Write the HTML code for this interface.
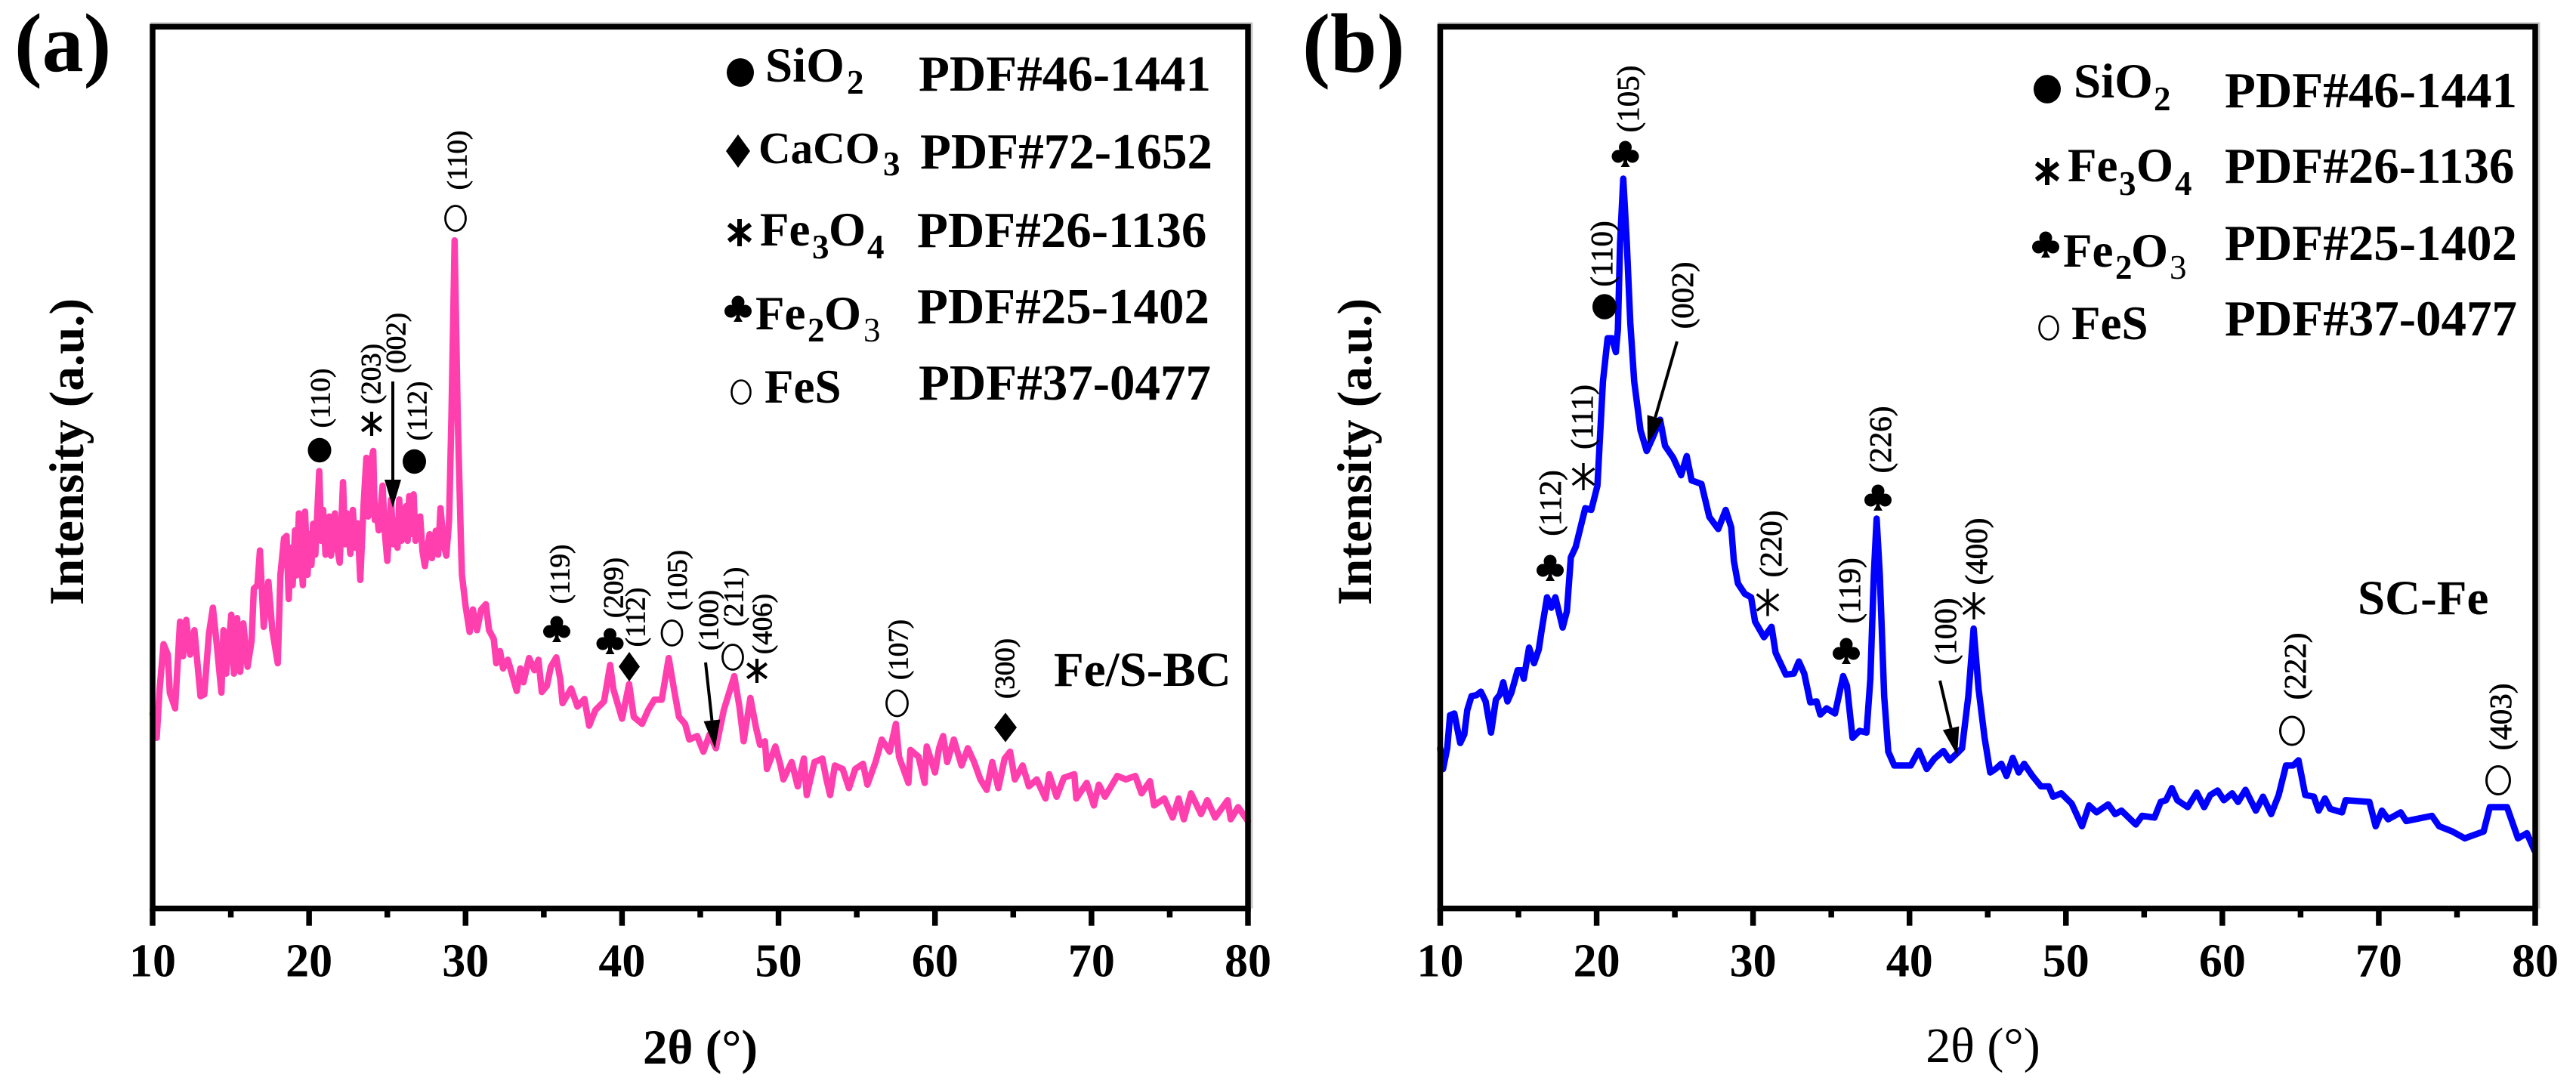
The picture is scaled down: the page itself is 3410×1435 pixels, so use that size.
<!DOCTYPE html>
<html lang="en">
<head>
<meta charset="utf-8">
<title>XRD patterns of Fe/S-BC and SC-Fe</title>
<style>
html,body{margin:0;padding:0;background:#fff;}
svg{display:block;}
text{font-family:"Liberation Serif",serif;fill:#000;}
.b{font-weight:bold;}
.tick{font-weight:bold;font-size:62px;text-anchor:middle;}
.title{font-weight:bold;font-size:65px;text-anchor:middle;}
.pdf{font-weight:bold;font-size:67px;}
.chem{font-weight:bold;font-size:63px;}
.si{font-weight:bold;font-size:65px;}
.ca{font-weight:bold;font-size:59px;}
.sub{font-weight:bold;font-size:45px;}
.hkl{font-size:37px;text-anchor:middle;dominant-baseline:central;stroke:#000;stroke-width:.7px;}
.hklb{font-size:41px;text-anchor:middle;dominant-baseline:central;stroke:#000;stroke-width:.7px;}
</style>
</head>
<body>
<svg id="fig" xmlns="http://www.w3.org/2000/svg" width="3410" height="1435" viewBox="0 0 3410 1435">
  <rect x="0" y="0" width="3410" height="1435" fill="#fff"/>

  <text class="b" x="19" y="94" font-size="110">(a)</text>
  <text class="b" x="1724" y="95" font-size="111">(b)</text>

  <g id="panelA"></g>
  <g id="panelB"></g>

  <text class="title" transform="translate(110 598) rotate(-90)">Intensity (a.u.)</text>
  <text class="title" transform="translate(1815 598) rotate(-90)">Intensity (a.u.)</text>
  <text class="title" x="927" y="1408" font-size="62">2θ (°)</text>
  <text x="2625" y="1406" font-size="66" text-anchor="middle">2θ (°)</text>

  <text class="si" x="1395" y="908">Fe/S-BC</text>
  <text class="si" x="3121" y="813">SC-Fe</text>

  <g>
    <g>
      <text class="si" x="1013" y="108">SiO</text><text class="sub" x="1121" y="124">2</text>
      <text class="pdf" x="1216" y="120">PDF#46-1441</text>
    </g>
    <g>
      <text class="ca" x="1004" y="216">CaCO</text><text class="sub" x="1169" y="232">3</text>
      <text class="pdf" x="1218" y="223">PDF#72-1652</text>
    </g>
    <g>
      <text class="chem" x="1006" y="325">Fe</text><text class="sub" x="1075" y="342">3</text><text class="chem" x="1097" y="325">O</text><text class="sub" x="1148" y="342">4</text>
      <text class="pdf" x="1214" y="327">PDF#26-1136</text>
    </g>
    <g>
      <text class="chem" x="1000" y="436">Fe</text><text class="sub" x="1069" y="452">2</text><text class="chem" x="1091" y="436">O</text><text class="sub" x="1143" y="452" style="font-weight:normal">3</text>
      <text class="pdf" x="1214" y="428">PDF#25-1402</text>
    </g>
    <g>
      <text class="chem" x="1012" y="533">FeS</text>
      <text class="pdf" x="1216" y="529">PDF#37-0477</text>
    </g>
  </g>

  <g>
    <g>
      <text class="si" x="2745" y="129">SiO</text><text class="sub" x="2851" y="146">2</text>
      <text class="pdf" x="2945" y="142">PDF#46-1441</text>
    </g>
    <g>
      <text class="chem" x="2737" y="240">Fe</text><text class="sub" x="2805" y="258">3</text><text class="chem" x="2828" y="240">O</text><text class="sub" x="2879" y="258">4</text>
      <text class="pdf" x="2945" y="242">PDF#26-1136</text>
    </g>
    <g>
      <text class="chem" x="2731" y="353">Fe</text><text class="sub" x="2800" y="369">2</text><text class="chem" x="2821" y="353">O</text><text class="sub" x="2872" y="369" style="font-weight:normal">3</text>
      <text class="pdf" x="2945" y="344">PDF#25-1402</text>
    </g>
    <g>
      <text class="chem" x="2742" y="449">FeS</text>
      <text class="pdf" x="2945" y="444">PDF#37-0477</text>
    </g>
  </g>

  <g id="marks"></g>
</svg>

<script>
// ---- chart data (2-theta in degrees, intensity in arbitrary counts) ----
const majorTicks = [10, 20, 30, 40, 50, 60, 70, 80];
const minorTicks = [15, 25, 35, 45, 55, 65, 75];
const tickLabels = ['10', '20', '30', '40', '50', '60', '70', '80'];

const thetaA = [
10,10.26,10.45,10.7,10.97,11.1,11.44,11.75,11.94,12.15,12.4,12.67,13.06,13.3,13.6,13.85,14.1,14.4,14.53,14.7,
15.03,15.2,15.4,15.6,15.8,16.07,16.33,16.47,16.7,16.86,17.1,17.4,17.65,18,18.17,18.4,18.56,18.7,18.85,18.95,
19.1,19.2,19.35,19.5,19.6,19.74,19.9,20.05,20.15,20.26,20.4,20.65,20.78,20.9,21.05,21.18,21.3,21.4,21.65,21.8,
21.96,22.17,22.3,22.43,22.64,22.8,22.95,23.1,23.27,23.48,23.66,23.78,23.87,24.1,24.2,24.3,24.45,24.7,24.85,25,
25.24,25.38,25.5,25.65,25.76,25.9,26,26.2,26.3,26.4,26.55,26.68,26.8,26.94,27.1,27.25,27.4,27.7,27.85,28.1,
28.25,28.4,28.6,28.77,28.95,29.1,29.3,29.5,29.7,29.77,
30,30.26,30.47,30.73,31,31.3,31.5,31.8,31.96,32.2,32.4,32.7,32.96,33.27,33.5,33.7,34.06,34.4,34.66,34.87,
35.2,35.45,35.8,36.05,36.2,36.75,37.15,37.6,37.9,38.3,38.85,39.24,39.45,40,40.45,40.75,41.28,41.67,42.07,42.54,
42.98,43.32,43.64,44.03,44.3,44.8,45.2,45.6,46,46.5,47.17,47.5,47.77,48.2,48.56,48.82,49.13,49.26,49.8,50.13,
50.31,50.84,51.23,51.62,51.8,52.3,52.8,53.06,53.3,53.6,54.1,54.5,54.9,55.4,55.68,56.2,56.6,57.1,57.5,57.7,
58.3,58.43,58.95,59.34,59.47,60,60.26,60.52,60.78,61.2,61.7,62.1,62.5,62.9,63.3,63.66,64.05,64.45,64.8,65.1,
65.6,66,66.5,67.06,67.3,67.77,68.24,68.9,69.03,69.7,70.15,70.47,70.86,71.65,72.2,72.8,73.2,73.74,74,74.65,
75.18,75.57,75.9,76.36,77,77.4,77.9,78.7,78.9,79.37,80
];
const intensityA = [
562,492,632,762,732,622,577,827,727,832,732,802,612,617,792,867,762,622,802,677,
847,677,837,682,822,697,772,922,932,1032,812,942,802,707,962,1067,1074,892,1040,932,
1090,960,1139,1000,932,1144,962,1080,990,1109,1020,1261,1060,1149,1020,1079,1130,1017,1139,1040,
997,1229,1050,1139,1022,1149,1040,1110,947,1159,1299,1130,1269,1319,1120,1159,1090,1219,1080,1002,
1179,1050,1119,1040,1179,1060,1089,1160,1060,1189,1080,1194,1060,1089,1130,1030,987,1079,1010,1089,
1020,1154,1050,1017,1119,1419,1926,1419,1062,962,
872,797,862,802,862,877,802,777,707,742,692,717,677,627,692,652,722,687,717,624,
642,697,724,662,592,634,582,604,527,572,597,702,632,547,647,552,532,572,602,602,
722,632,552,532,487,497,452,502,462,572,670,582,482,607,522,472,482,402,467,412,
372,422,352,432,327,422,432,372,327,412,402,347,402,417,357,422,487,452,532,437,
362,457,437,362,467,392,462,497,422,487,412,462,422,372,342,422,347,432,452,372,
412,352,372,317,387,322,377,387,317,362,297,357,322,382,372,382,332,367,297,317,
262,317,257,332,272,312,262,312,257,292,252
];

const thetaB = [
10,10.18,10.45,10.63,10.9,11.28,11.54,11.73,12,12.33,12.6,12.9,13.25,13.56,13.82,14.03,14.3,14.55,14.95,15.2,
15.34,15.68,16,16.3,16.5,16.83,17.1,17.36,17.83,18.1,18.35,18.66,19.27,19.66,20.05,20.4,20.7,20.97,21.23,21.36,
21.5,21.7,21.93,22.15,22.4,22.8,23.2,23.6,24.06,24.37,24.9,25.4,25.76,26.07,26.7,27.2,27.77,28.25,28.6,28.77,
29.03,29.47,29.87,30.13,30.7,31.18,31.44,32.1,32.6,32.93,33.27,33.66,34.06,34.3,34.7,35.24,35.76,36,36.36,36.8,
37.25,37.5,37.72,37.9,38.1,38.38,38.64,39.03,40.08,40.6,41.1,41.6,42.17,42.57,43.1,43.36,43.76,44.1,44.42,44.8,
45.16,45.5,45.87,46.2,46.6,46.98,47.33,47.86,48.4,48.9,49.18,49.7,50.37,51.03,51.48,51.96,52.7,53.15,53.55,54.47,
54.87,55.66,56.06,56.4,56.77,57.12,57.78,58.36,58.84,59.23,59.7,60.1,60.63,61,61.48,62.14,62.6,63.12,63.6,64.07,
64.52,64.87,65.3,65.85,66.16,66.56,66.9,67.65,67.88,69.4,69.8,70.2,70.6,71.4,71.75,73.4,73.86,74.7,75.5,76.7,
77.1,78.2,78.9,79.47,79.95
];
const intensityB = [
462,402,462,557,562,477,502,572,612,615,625,597,507,602,617,652,597,622,687,687,
662,752,707,747,807,897,867,897,810,857,1012,1042,1154,1149,1219,1519,1644,1644,1604,1669,
1919,2104,1919,1689,1519,1379,1319,1359,1409,1334,1299,1249,1304,1234,1224,1129,1094,1149,1099,1002,
937,907,897,827,782,812,737,674,677,712,677,594,597,559,577,562,670,642,492,512,
507,662,962,1124,962,612,452,412,412,455,402,432,454,427,450,462,612,807,632,492,
392,402,417,382,434,392,417,382,352,352,322,332,302,237,297,277,300,272,282,242,
267,262,307,312,347,312,292,334,292,327,340,312,332,307,342,282,322,272,327,412,
412,427,327,322,282,317,287,277,312,307,237,282,257,277,252,267,237,222,202,222,
292,292,202,217,167
];

const xMin = 10, xMax = 80, yMin = 0, yMax = 2542;
const NS = 'http://www.w3.org/2000/svg';

function mk(parent, tag, attrs) {
  const el = document.createElementNS(NS, tag);
  for (const k in attrs) el.setAttribute(k, attrs[k]);
  parent.appendChild(el);
  return el;
}

function drawPanel(root, suffix, left, right, theta, intensity, color, width) {
  const top = 35.4, bottom = 1202.6;
  const xScale = v => left + (v - xMin) / (xMax - xMin) * (right - left);
  const yScale = v => bottom - (v - yMin) / (yMax - yMin) * (bottom - top);

  const shadow = mk(root, 'path', { d: `M${left - 3} ${top - 4.5}H${right + 5}V${bottom}`, fill: 'none', stroke: '#c9c9c9', 'stroke-width': 3 });
  
  

  const d = theta.map((t, i) => (i ? 'L' : 'M') + xScale(t).toFixed(1) + ' ' + yScale(intensity[i]).toFixed(1)).join('');
  const line = mk(root, 'path', { d: d, fill: 'none', stroke: color, 'stroke-width': width, 'stroke-linejoin': 'round', 'stroke-linecap': 'round' });
  
  

  const frame = mk(root, 'rect', { x: left, y: top, width: right - left, height: bottom - top, fill: 'none', stroke: '#000', 'stroke-width': 7.5 });
  
  

  majorTicks.forEach((t, i) => {
    const tick = mk(root, 'line', { x1: xScale(t), x2: xScale(t), y1: bottom, y2: 1225.6, stroke: '#000', 'stroke-width': 7.5 });
    
    
    const lab = mk(root, 'text', { x: xScale(t), y: 1292.5, class: 'tick' });
    lab.textContent = tickLabels[i];
    
    
  });
  minorTicks.forEach(t => {
    const tick = mk(root, 'line', { x1: xScale(t), x2: xScale(t), y1: bottom, y2: 1214.5, stroke: '#000', 'stroke-width': 7.5 });
    
    
  });
}

drawPanel(document.getElementById('panelA'), 'a', 202, 1652, thetaA, intensityA, '#ff3fae', 8.5);
drawPanel(document.getElementById('panelB'), 'b', 1906.5, 3356, thetaB, intensityB, '#0000ff', 8.5);

// ---- phase markers and reflection labels ----
const marks = document.getElementById('marks');

function dot(x, y, r) {
  const el = mk(marks, 'ellipse', { cx: x, cy: y, rx: r, ry: r * 1.05, fill: '#000' });
  
  
}
function diamond(x, y, w, h) {
  const el = mk(marks, 'polygon', { points: `${x},${y - h / 2} ${x + w / 2},${y} ${x},${y + h / 2} ${x - w / 2},${y}`, fill: '#000' });
  
  
}
function star(x, y, r, sw) {
  const g = mk(marks, 'g', { stroke: '#000', 'stroke-width': sw });
  
  
  const dx = r * 0.8, dy = r * 0.6;
  mk(g, 'line', { x1: x, y1: y - r, x2: x, y2: y + r });
  mk(g, 'line', { x1: x - dx, y1: y - dy, x2: x + dx, y2: y + dy });
  mk(g, 'line', { x1: x - dx, y1: y + dy, x2: x + dx, y2: y - dy });
}
function club(x, y) {
  const g = mk(marks, 'g', { fill: '#000' });
  
  
  mk(g, 'circle', { cx: x, cy: y - 9, r: 8.5 });
  mk(g, 'circle', { cx: x - 9.5, cy: y + 3, r: 8.5 });
  mk(g, 'circle', { cx: x + 9.5, cy: y + 3, r: 8.5 });
  mk(g, 'polygon', { points: `${x - 2.5},${y - 5} ${x + 2.5},${y - 5} ${x + 2.5},${y + 11} ${x + 6},${y + 17} ${x - 6},${y + 17} ${x - 2.5},${y + 11}` });
}
function ring(x, y, rx, ry, sw) {
  const el = mk(marks, 'ellipse', { cx: x, cy: y, rx: rx, ry: ry, fill: 'none', stroke: '#000', 'stroke-width': sw });
  
  
}
function hkl(x, y, text, cls) {
  const el = mk(marks, 'text', { class: cls, transform: `translate(${x} ${y}) rotate(-90)` });
  el.textContent = text;
  
  
}
function arrow(x1, y1, x2, y2) {
  const g = mk(marks, 'g', {});
  
  
  const len = Math.hypot(x2 - x1, y2 - y1), ux = (x2 - x1) / len, uy = (y2 - y1) / len;
  const bx = x2 - ux * 37, by = y2 - uy * 37, hw = 11;
  mk(g, 'line', { x1: x1, y1: y1, x2: bx, y2: by, stroke: '#000', 'stroke-width': 4 });
  mk(g, 'polygon', { points: `${x2},${y2} ${bx - uy * hw},${by + ux * hw} ${bx + uy * hw},${by - ux * hw}`, fill: '#000' });
}

// legend markers, panel a
dot(980, 96, 18); diamond(977, 200, 32, 44); star(979, 308, 18, 6); club(977, 409); ring(981, 519, 12.5, 15.5, 2.6);
// legend markers, panel b
dot(2710, 118, 18); star(2710, 227, 18, 6); club(2708, 324); ring(2712, 434, 12.5, 15.5, 2.6);

// peak annotations, panel a
ring(603, 289, 13.5, 16.5, 2.8);  hkl(606, 212, '(110)', 'hkl');
dot(423, 596, 15.5);              hkl(425, 527, '(110)', 'hkl');
star(492, 561, 16, 4.2);          hkl(492, 495, '(203)', 'hkl');
arrow(520, 505, 520, 672);        hkl(525, 454, '(002)', 'hkl');
dot(548.5, 611, 15.5);            hkl(553, 544, '(112)', 'hkl');
club(737, 833);                   hkl(742, 760, '(119)', 'hkl');
club(807.5, 849);                 hkl(813, 778, '(209)', 'hkl');
diamond(833, 882.5, 28, 39);      hkl(842, 817, '(112)', 'hkl');
ring(889.5, 838, 13.5, 16.5, 2.8); hkl(897.5, 768, '(105)', 'hkl');
arrow(934, 877, 946.5, 990.5);    hkl(939, 821, '(100)', 'hkl');
ring(970, 870, 13.5, 16.5, 2.8);  hkl(972, 790, '(211)', 'hkl');
star(1002, 888, 16, 4.2);         hkl(1010, 826, '(406)', 'hkl');
ring(1187.5, 931, 14, 17, 2.8);   hkl(1190, 860, '(107)', 'hkl');
diamond(1331, 963, 30, 39);       hkl(1331, 885, '(300)', 'hkl');

// peak annotations, panel b
club(2151.5, 204);                hkl(2155, 131, '(105)', 'hklb');
dot(2124, 406, 16);               hkl(2120, 336, '(110)', 'hklb');
arrow(2220, 452, 2181, 588);      hkl(2227, 391, '(002)', 'hklb');
star(2096, 631, 18, 3.4);         hkl(2094, 552, '(111)', 'hklb');
club(2052, 752);                  hkl(2052, 666, '(112)', 'hklb');
club(2486, 659);                  hkl(2489, 582, '(226)', 'hklb');
club(2444, 862);                  hkl(2448, 782, '(119)', 'hklb');
star(2340, 797.5, 18, 3.4);       hkl(2344, 720, '(220)', 'hklb');
star(2613, 802, 18, 3.4);         hkl(2616, 730, '(400)', 'hklb');
arrow(2568, 901, 2591, 1000);     hkl(2575, 836, '(100)', 'hklb');
ring(3034, 967.5, 15.5, 18.5, 3); hkl(3038, 882, '(222)', 'hklb');
ring(3307, 1033, 15.5, 18.5, 3);  hkl(3310, 949, '(403)', 'hklb');
</script>
</body>
</html>
